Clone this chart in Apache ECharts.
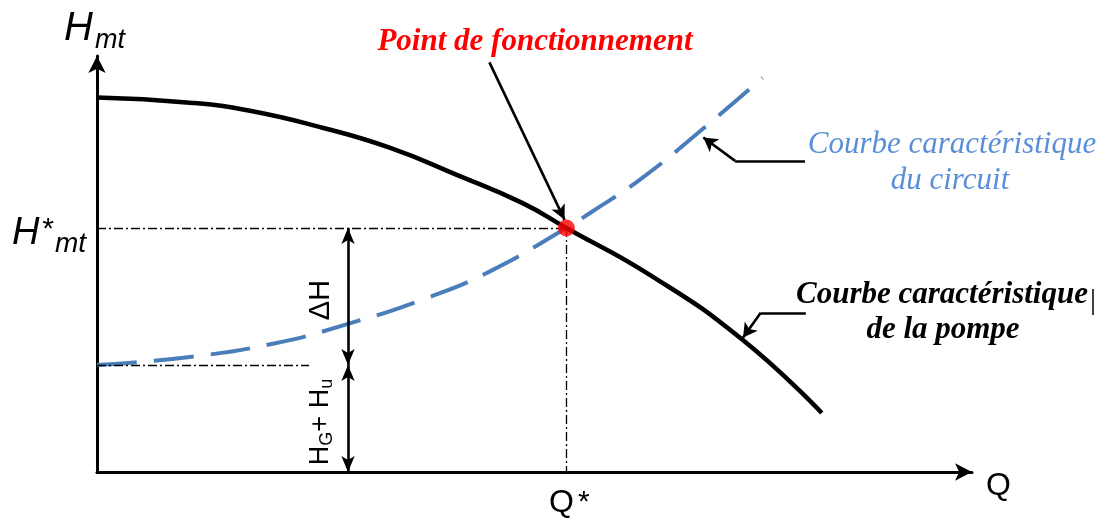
<!DOCTYPE html>
<html>
<head>
<meta charset="utf-8">
<script src="https://cdn.jsdelivr.net/npm/echarts@6/dist/echarts.min.js"></script>
<style>
html, body { margin: 0; padding: 0; background: #fff; }
#chart { width: 1109px; height: 522px; }
</style>
</head>
<body>
<div id="chart"></div>
<script>
var pompeQ = [0, 10.5, 17.3, 25.5, 33.1, 40.7, 48.1, 53.1, 62.5, 73.0, 82.0];
var pompeH = [88.2, 87.0, 85.1, 81.1, 76.4, 70.0, 63.4, 57.5, 46.5, 31.2, 13.9];
// courbe caracteristique du circuit
var circuitQ = [0, 10.5, 20.3, 28.4, 36.8, 44.4, 53.1, 56.0, 61.7, 68.7, 75.3];
var circuitH = [25.2, 27.1, 30.4, 34.9, 40.6, 47.2, 57.5, 61.3, 69.3, 81.1, 92.9];
// point de fonctionnement et hauteurs
var Qstar = 53.1;
var Hstar = 57.5;
var HgHu = 25.2;
var qCotes = 28.4;      // abscisse des fleches ΔH / HG+Hu
var finRepereHgHu = 24.0;
// fleches des annotations
var flecheFct = [[44.4, 96.5], [52.9, 59.4]];
var flecheCircuit = [[80.1, 73.3], [72.2, 73.3], [68.6, 78.8]];
var flechePompe = [[80.2, 37.5], [75.1, 37.5], [73.1, 31.7]];

var myChart = echarts.init(document.getElementById("chart"));

function zip(a, b) {
  return a.map(function(v, i) { return [v, b[i]]; });
}

var dashDot = { color: "#000", width: 1.3, type: [9, 3, 2, 3] };
var cote = { color: "#000", width: 2.6, type: "solid" };
var fleche = { color: "#000", width: 2.6, type: "solid" };

function seg(p1, p2, style, s1, s2, size) {
  return [
    { coord: p1, lineStyle: style, symbol: s1 || "none", symbolSize: size || [10, 14] },
    { coord: p2, symbol: s2 || "none", symbolSize: size || [10, 14] }
  ];
}

var sans = "'Liberation Sans', Arial, sans-serif";
var serifFont = "'Liberation Serif', 'Times New Roman', serif";

function txt(text, x, y, font, color, align, rot) {
  return {
    type: "text",
    x: x,
    y: y,
    rotation: rot || 0,
    z: 10,
    style: {
      text: text,
      x: 0,
      y: 0,
      font: font,
      fill: color || "#000",
      textAlign: align || "left",
      textVerticalAlign: "middle"
    }
  };
}

var option = {
  animation: false,
  grid: { left: 97, top: 56, right: 137, bottom: 50 },
  xAxis: {
    type: "value",
    min: 0,
    max: 99,
    axisLine: {
      show: true,
      lineStyle: { color: "#000", width: 3 },
      symbol: ["none", "arrow"],
      symbolSize: [13, 17]
    },
    axisTick: { show: false },
    axisLabel: { show: false },
    splitLine: { show: false }
  },
  yAxis: {
    type: "value",
    min: 0,
    max: 98,
    axisLine: {
      show: true,
      lineStyle: { color: "#000", width: 3 },
      symbol: ["none", "arrow"],
      symbolSize: [13, 17]
    },
    axisTick: { show: false },
    axisLabel: { show: false },
    splitLine: { show: false }
  },
  series: [
    {
      name: "reperes",
      type: "line",
      z: 2,
      showSymbol: false,
      symbol: "none",
      lineStyle: { width: 0 },
      data: [[Qstar, Hstar]],
      markLine: {
        silent: true,
        animation: false,
        symbol: ["none", "none"],
        label: { show: false },
        emphasis: { disabled: true },
        data: [
          seg([0, Hstar], [Qstar, Hstar], dashDot),
          seg([Qstar, Hstar], [Qstar, 0], dashDot),
          seg([0, HgHu], [finRepereHgHu, HgHu], dashDot),
          seg([qCotes, Hstar], [qCotes, HgHu], cote, "arrow", "arrow", [10, 16]),
          seg([qCotes, HgHu], [qCotes, 0], cote, "arrow", "arrow", [10, 16]),
          seg(flecheFct[0], flecheFct[1], fleche, "none", "arrow", [11, 15]),
          seg(flecheCircuit[0], flecheCircuit[1], fleche),
          seg(flecheCircuit[1], flecheCircuit[2], fleche, "none", "arrow", [12, 14]),
          seg(flechePompe[0], flechePompe[1], fleche),
          seg(flechePompe[1], flechePompe[2], fleche, "none", "arrow", [12, 14])
        ]
      }
    },
    {
      name: "circuit",
      type: "line",
      z: 3,
      smooth: 0.5,
      showSymbol: false,
      symbol: "none",
      lineStyle: { color: "#4a7ebb", width: 4, type: [40, 17], cap: "butt" },
      data: zip(circuitQ, circuitH)
    },
    {
      name: "pompe",
      type: "line",
      z: 4,
      smooth: 0.5,
      showSymbol: false,
      symbol: "none",
      lineStyle: { color: "#000", width: 4.5 },
      data: zip(pompeQ, pompeH)
    },
    {
      name: "point",
      type: "scatter",
      z: 6,
      symbol: "circle",
      symbolSize: 17,
      itemStyle: { color: "#ff0000" },
      data: [[Qstar, Hstar]]
    }
  ],
  graphic: [
    txt("H", 64, 29, "italic 40px " + sans),
    txt("mt", 95, 40, "italic 27px " + sans),
    txt("H", 12, 233, "italic 38px " + sans),
    txt("*", 41, 230, "italic 30px " + sans),
    txt("mt", 55, 244, "italic 28px " + sans),
    txt("Q", 549, 503, "32px " + sans),
    txt("*", 578, 503, "30px " + sans),
    txt("Q", 986, 486, "32px " + sans),
    txt("ΔH", 321, 300, "29px " + sans, "#000", "center", Math.PI / 2),
    {
      type: "text",
      x: 321,
      y: 422,
      rotation: Math.PI / 2,
      z: 10,
      style: {
        text: "{b|H}{s|G}{b|+ H}{s|u}",
        x: 0,
        y: 0,
        textAlign: "center",
        textVerticalAlign: "middle",
        fill: "#000",
        rich: {
          b: { fontSize: 27, fontFamily: "Liberation Sans", lineHeight: 30, fill: "#000" },
          s: { fontSize: 18, fontFamily: "Liberation Sans", lineHeight: 18, verticalAlign: "bottom", fill: "#000" }
        }
      }
    },
    txt("Point de fonctionnement", 535, 42, "italic bold 31px " + serifFont, "#ff0000", "center"),
    txt("Courbe caractéristique", 952, 145, "italic 31px " + serifFont, "#5a8fd8", "center"),
    txt("du circuit", 950, 181, "italic 31px " + serifFont, "#5a8fd8", "center"),
    txt("Courbe caractéristique", 942, 295, "italic bold 31px " + serifFont, "#000", "center"),
    txt("de la pompe", 943, 330, "italic bold 31px " + serifFont, "#000", "center"),
    {
      type: "line",
      z: 10,
      shape: { x1: 1093, y1: 289, x2: 1093, y2: 315 },
      style: { stroke: "#000", lineWidth: 1.5 }
    }
  ]
};

myChart.setOption(option);
window.addEventListener("resize", function() {
  myChart.resize();
});
</script>
</body>
</html>
